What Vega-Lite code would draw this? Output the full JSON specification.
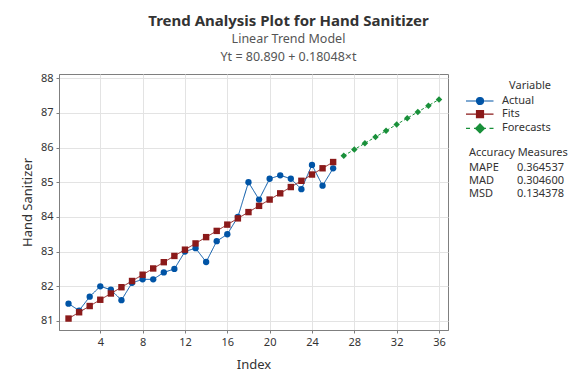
{
  "$schema": "https://vega.github.io/schema/vega-lite/v6.json",
  "width": 389,
  "height": 256,
  "autosize": {"type": "none"},
  "padding": {"left": 59, "top": 74, "right": 128, "bottom": 54},
  "background": "white",
  "title": {
    "text": "Trend Analysis Plot for Hand Sanitizer",
    "subtitle": ["Linear Trend Model", "Yt = 80.890 + 0.18048×t"],
    "anchor": "middle",
    "frame": "group",
    "dx": 35,
    "offset": 9,
    "font": "Noto Sans",
    "fontSize": 15,
    "fontWeight": "bold",
    "color": "#333333",
    "subtitleFont": "Noto Sans",
    "subtitleFontSize": 12.5,
    "subtitleColor": "#555555",
    "subtitlePadding": 4,
    "subtitleLineHeight": 17.5
  },
  "config": {
    "font": "Noto Sans",
    "view": {"stroke": "#7f7f7f", "strokeWidth": 1},
    "axis": {
      "domainColor": "#7f7f7f",
      "tickColor": "#7f7f7f",
      "tickSize": 3,
      "gridColor": "#e3e3e3",
      "labelFont": "Noto Sans",
      "labelFontSize": 11,
      "labelColor": "#333333",
      "titleFont": "Noto Sans",
      "titleFontSize": 13,
      "titleFontWeight": "normal",
      "titleColor": "#333333"
    },
    "legend": {
      "labelFont": "Noto Sans",
      "titleFont": "Noto Sans",
      "labelFontSize": 11,
      "titleFontSize": 11,
      "titleFontWeight": "normal",
      "labelColor": "#333333",
      "titleColor": "#333333",
      "padding": 0
    }
  },
  "datasets": {
    "series": [
      {"t": 1, "v": 81.5, "Variable": "Actual"},
      {"t": 2, "v": 81.3, "Variable": "Actual"},
      {"t": 3, "v": 81.7, "Variable": "Actual"},
      {"t": 4, "v": 82.0, "Variable": "Actual"},
      {"t": 5, "v": 81.9, "Variable": "Actual"},
      {"t": 6, "v": 81.6, "Variable": "Actual"},
      {"t": 7, "v": 82.1, "Variable": "Actual"},
      {"t": 8, "v": 82.2, "Variable": "Actual"},
      {"t": 9, "v": 82.2, "Variable": "Actual"},
      {"t": 10, "v": 82.4, "Variable": "Actual"},
      {"t": 11, "v": 82.5, "Variable": "Actual"},
      {"t": 12, "v": 83.0, "Variable": "Actual"},
      {"t": 13, "v": 83.1, "Variable": "Actual"},
      {"t": 14, "v": 82.7, "Variable": "Actual"},
      {"t": 15, "v": 83.3, "Variable": "Actual"},
      {"t": 16, "v": 83.5, "Variable": "Actual"},
      {"t": 17, "v": 84.0, "Variable": "Actual"},
      {"t": 18, "v": 85.0, "Variable": "Actual"},
      {"t": 19, "v": 84.5, "Variable": "Actual"},
      {"t": 20, "v": 85.1, "Variable": "Actual"},
      {"t": 21, "v": 85.2, "Variable": "Actual"},
      {"t": 22, "v": 85.1, "Variable": "Actual"},
      {"t": 23, "v": 84.8, "Variable": "Actual"},
      {"t": 24, "v": 85.5, "Variable": "Actual"},
      {"t": 25, "v": 84.9, "Variable": "Actual"},
      {"t": 26, "v": 85.4, "Variable": "Actual"},
      {"t": 1, "v": 81.070, "Variable": "Fits"},
      {"t": 2, "v": 81.251, "Variable": "Fits"},
      {"t": 3, "v": 81.431, "Variable": "Fits"},
      {"t": 4, "v": 81.612, "Variable": "Fits"},
      {"t": 5, "v": 81.792, "Variable": "Fits"},
      {"t": 6, "v": 81.973, "Variable": "Fits"},
      {"t": 7, "v": 82.153, "Variable": "Fits"},
      {"t": 8, "v": 82.334, "Variable": "Fits"},
      {"t": 9, "v": 82.514, "Variable": "Fits"},
      {"t": 10, "v": 82.695, "Variable": "Fits"},
      {"t": 11, "v": 82.875, "Variable": "Fits"},
      {"t": 12, "v": 83.056, "Variable": "Fits"},
      {"t": 13, "v": 83.236, "Variable": "Fits"},
      {"t": 14, "v": 83.417, "Variable": "Fits"},
      {"t": 15, "v": 83.597, "Variable": "Fits"},
      {"t": 16, "v": 83.778, "Variable": "Fits"},
      {"t": 17, "v": 83.958, "Variable": "Fits"},
      {"t": 18, "v": 84.139, "Variable": "Fits"},
      {"t": 19, "v": 84.319, "Variable": "Fits"},
      {"t": 20, "v": 84.500, "Variable": "Fits"},
      {"t": 21, "v": 84.680, "Variable": "Fits"},
      {"t": 22, "v": 84.861, "Variable": "Fits"},
      {"t": 23, "v": 85.041, "Variable": "Fits"},
      {"t": 24, "v": 85.222, "Variable": "Fits"},
      {"t": 25, "v": 85.402, "Variable": "Fits"},
      {"t": 26, "v": 85.582, "Variable": "Fits"},
      {"t": 27, "v": 85.763, "Variable": "Forecasts"},
      {"t": 28, "v": 85.943, "Variable": "Forecasts"},
      {"t": 29, "v": 86.124, "Variable": "Forecasts"},
      {"t": 30, "v": 86.304, "Variable": "Forecasts"},
      {"t": 31, "v": 86.485, "Variable": "Forecasts"},
      {"t": 32, "v": 86.665, "Variable": "Forecasts"},
      {"t": 33, "v": 86.846, "Variable": "Forecasts"},
      {"t": 34, "v": 87.026, "Variable": "Forecasts"},
      {"t": 35, "v": 87.207, "Variable": "Forecasts"},
      {"t": 36, "v": 87.387, "Variable": "Forecasts"}
    ],
    "accuracy": [
      {"cell": "MAPE"},
      {"cell": "MAD"},
      {"cell": "MSD"},
      {"cell": "0.364537"},
      {"cell": "0.304600"},
      {"cell": "0.134378"}
    ]
  },
  "encoding": {
    "x": {
      "field": "t",
      "type": "quantitative",
      "title": "Index",
      "scale": {"domain": [0.1, 36.85], "nice": false, "zero": false},
      "axis": {"values": [4, 8, 12, 16, 20, 24, 28, 32, 36], "titlePadding": 11, "labelPadding": 3}
    },
    "y": {
      "field": "v",
      "type": "quantitative",
      "title": "Hand Sanitizer",
      "scale": {"domain": [80.74, 88.12], "nice": false, "zero": false},
      "axis": {"values": [81, 82, 83, 84, 85, 86, 87, 88], "titlePadding": 6, "labelPadding": 3}
    }
  },
  "resolve": {"scale": {"shape": "independent", "fill": "independent", "stroke": "independent", "color": "independent", "size": "independent"}},
  "layer": [
    {
      "data": {"name": "series"},
      "mark": {"type": "line", "strokeWidth": 1},
      "encoding": {
        "color": {
          "field": "Variable", "type": "nominal", "legend": null,
          "scale": {"domain": ["Actual", "Fits", "Forecasts"], "range": ["#0054a6", "#8b1a1a", "#19903a"]}
        },
        "strokeDash": {
          "field": "Variable", "type": "nominal", "legend": null,
          "scale": {"domain": ["Actual", "Fits", "Forecasts"], "range": [[1, 0], [1, 0], [3, 2]]}
        }
      }
    },
    {
      "data": {"name": "series"},
      "mark": {"type": "point", "filled": true, "opacity": 1},
      "encoding": {
        "color": {
          "field": "Variable", "type": "nominal", "legend": null,
          "scale": {"domain": ["Actual", "Fits", "Forecasts"], "range": ["#0054a6", "#8b1a1a", "#19903a"]}
        },
        "shape": {
          "field": "Variable", "type": "nominal", "legend": null,
          "scale": {"domain": ["Actual", "Fits", "Forecasts"], "range": ["circle", "square", "diamond"]}
        },
        "size": {
          "field": "Variable", "type": "ordinal", "legend": null,
          "scale": {"domain": ["Actual", "Fits", "Forecasts"], "range": [40, 42, 60]}
        }
      }
    },
    {
      "data": {"name": "series"},
      "mark": {"type": "point", "filled": true, "opacity": 0},
      "encoding": {
        "fill": {
          "field": "Variable", "type": "nominal",
          "scale": {"domain": ["Actual", "Fits", "Forecasts"], "range": ["#0054a6", "#8b1a1a", "#19903a"]},
          "legend": {"title": "Variable", "orient": "none", "legendX": 406, "legendY": 6, "symbolSize": 100, "symbolStrokeWidth": 1.2, "symbolOpacity": 1, "labelOffset": 25, "rowPadding": 1.2, "titlePadding": 4, "titleAnchor": "end"}
        },
        "stroke": {
          "field": "Variable", "type": "nominal",
          "scale": {"domain": ["Actual", "Fits", "Forecasts"], "range": ["#0054a6", "#8b1a1a", "#19903a"]},
          "legend": {"title": "Variable", "orient": "none", "legendX": 406, "legendY": 6, "symbolSize": 100, "symbolStrokeWidth": 1.2, "symbolOpacity": 1, "labelOffset": 25, "rowPadding": 1.2, "titlePadding": 4, "titleAnchor": "end"}
        },
        "shape": {
          "field": "Variable", "type": "nominal",
          "scale": {
            "domain": ["Actual", "Fits", "Forecasts"],
            "range": [
              "M-1,0H4.5M1.1,0A0.7,0.7 0 1,1 2.5,0A0.7,0.7 0 1,1 1.1,0Z",
              "M-1,0H4.5M1.1,-0.7H2.5V0.7H1.1Z",
              "M-1,0H-0.2M0.6,0H1.2M2.4,0H3M3.7,0H4.5M1.8,-0.9L2.7,0L1.8,0.9L0.9,0Z"
            ]
          },
          "legend": {"title": "Variable", "orient": "none", "legendX": 406, "legendY": 6, "symbolSize": 100, "symbolStrokeWidth": 1.2, "symbolOpacity": 1, "labelOffset": 25, "rowPadding": 1.2, "titlePadding": 4, "titleAnchor": "end"}
        }
      }
    },
    {
      "data": {"name": "accuracy"},
      "mark": {"type": "point", "opacity": 0},
      "encoding": {
        "x": {"datum": 1, "type": "quantitative"},
        "y": {"datum": 85, "type": "quantitative"},
        "shape": {
          "field": "cell", "type": "nominal",
          "scale": {"domain": ["MAPE", "MAD", "MSD", "0.364537", "0.304600", "0.134378"]},
          "legend": {"title": "Accuracy Measures", "orient": "none", "legendX": 410, "legendY": 73, "columns": 2, "columnPadding": 18, "symbolSize": 0, "symbolOpacity": 0, "symbolStrokeWidth": 0, "labelOffset": -11, "rowPadding": 1, "titlePadding": 4}
        }
      }
    }
  ]
}
